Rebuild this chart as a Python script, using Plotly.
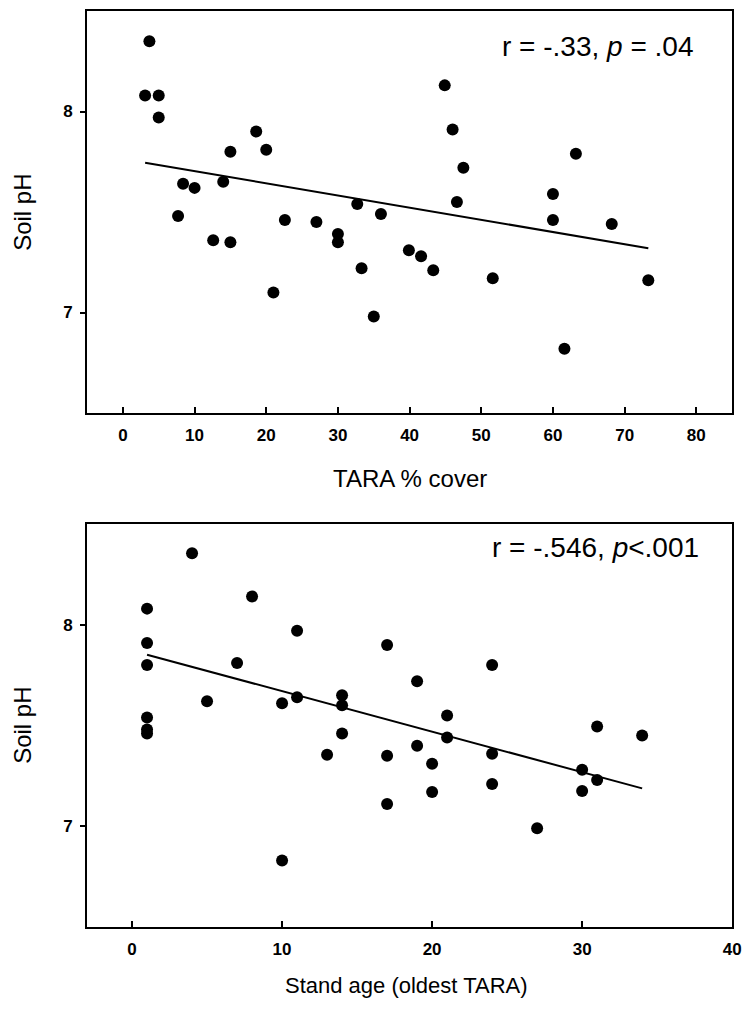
import plotly.graph_objects as go

# ---- Data ----
tara_cover = [3.7, 3.1, 5.0, 5.0, 18.6, 15.0, 20.0, 8.4, 10.0, 14.0, 7.7, 22.6,
              27.0, 32.7, 36.0, 12.6, 15.0, 30.0, 30.0, 21.0, 33.3, 35.0, 39.9, 44.9,
              46.0, 47.5, 46.6, 63.2, 60.0, 60.0, 68.2, 41.6, 43.3, 51.6, 73.3, 61.6]
ph_cover = [8.35, 8.08, 8.08, 7.97, 7.90, 7.80, 7.81, 7.64, 7.62, 7.65, 7.48, 7.46,
            7.45, 7.54, 7.49, 7.36, 7.35, 7.39, 7.35, 7.10, 7.22, 6.98, 7.31, 8.13,
            7.91, 7.72, 7.55, 7.79, 7.59, 7.46, 7.44, 7.28, 7.21, 7.17, 7.16, 6.82]

stand_age = [4, 1, 8, 1, 11, 17, 1, 7, 19, 5, 10, 11, 14, 14, 1, 1, 1, 14,
             24, 21, 31, 34, 21, 13, 17, 19, 17, 10, 20, 20, 24, 24, 30, 31, 30, 27]
ph_age = [8.355, 8.08, 8.14, 7.91, 7.97, 7.90, 7.80, 7.81, 7.72, 7.62, 7.61, 7.64,
          7.65, 7.60, 7.54, 7.48, 7.46, 7.46, 7.80, 7.55, 7.495, 7.45, 7.44, 7.355,
          7.35, 7.40, 7.11, 6.83, 7.31, 7.17, 7.36, 7.21, 7.28, 7.23, 7.175, 6.99]

# regression lines as drawn in the reference (intercept, slope)
fit_cover = (7.764, -0.00606)
fit_age = (7.8715, -0.0201)

stat_top = "r = -.33, <i>p</i> = .04"
stat_bottom = "r = -.546, <i>p</i>&lt;.001"

x_title_top = "TARA % cover"
x_title_bottom = "Stand age (oldest TARA)"
y_title = "Soil pH"

FONT = "Liberation Sans, Arial, Helvetica, sans-serif"
OFF = 8                      # browser body margin
W, H = 755 - OFF, 1014 - OFF


def px(x):
    return (x - OFF) / W


def py(y):
    return 1 - (y - OFF) / H


def fit_line(x, coef):
    b0, b1 = coef
    xs = [min(x), max(x)]
    return xs, [b0 + b1 * v for v in xs]


fig = go.Figure()

fig.add_trace(go.Scatter(x=tara_cover, y=ph_cover, mode="markers",
                         marker=dict(color="black", size=12),
                         xaxis="x", yaxis="y", showlegend=False))
lx, ly = fit_line(tara_cover, fit_cover)
fig.add_trace(go.Scatter(x=lx, y=ly, mode="lines",
                         line=dict(color="black", width=2),
                         xaxis="x", yaxis="y", showlegend=False))

fig.add_trace(go.Scatter(x=stand_age, y=ph_age, mode="markers",
                         marker=dict(color="black", size=12),
                         xaxis="x2", yaxis="y2", showlegend=False))
lx2, ly2 = fit_line(stand_age, fit_age)
fig.add_trace(go.Scatter(x=lx2, y=ly2, mode="lines",
                         line=dict(color="black", width=2),
                         xaxis="x2", yaxis="y2", showlegend=False))

xdom = [px(88), px(741)]
ydom_top = [py(413), py(11)]
ydom_bot = [py(927), py(524)]

tickfont = dict(family=FONT, size=17, color="black", weight="bold")
common_x = dict(showline=True, linecolor="black", linewidth=2, mirror=True,
                ticks="inside", ticklen=6, tickwidth=1.5, tickcolor="black",
                showgrid=False, zeroline=False, dtick=10,
                tickfont=tickfont, ticklabelstandoff=6)
common_y = dict(showline=True, linecolor="black", linewidth=2, mirror=True,
                ticks="outside", ticklen=5, tickwidth=1.5, tickcolor="black",
                showgrid=False, zeroline=False, dtick=1, range=[6.5, 8.5],
                tickfont=tickfont, ticklabelstandoff=4)

fig.update_layout(
    width=W, height=H,
    margin=dict(l=0, r=0, t=0, b=0),
    paper_bgcolor="white", plot_bgcolor="white",
    xaxis=dict(domain=xdom, anchor="y", range=[-5, 85], **common_x),
    yaxis=dict(domain=ydom_top, anchor="x", **common_y),
    xaxis2=dict(domain=xdom, anchor="y2", range=[-3, 40], **common_x),
    yaxis2=dict(domain=ydom_bot, anchor="x2", **common_y),
    font=dict(family=FONT, color="black"),
)

ann_font = dict(family=FONT, size=28, color="black")
title_font = dict(family=FONT, size=24, color="black")
fig.add_annotation(text=stat_top, xref="paper", yref="paper",
                   x=px(703), y=py(46), xanchor="right", yanchor="middle",
                   showarrow=False, font=ann_font)
fig.add_annotation(text=stat_bottom, xref="paper", yref="paper",
                   x=px(709), y=py(547), xanchor="right", yanchor="middle",
                   showarrow=False, font=ann_font)
fig.add_annotation(text=x_title_top, xref="paper", yref="paper",
                   x=px(415), y=py(478), xanchor="center", yanchor="middle",
                   showarrow=False, font=title_font)
fig.add_annotation(text=x_title_bottom, xref="paper", yref="paper",
                   x=px(411), y=py(985), xanchor="center", yanchor="middle",
                   showarrow=False, font=dict(family=FONT, size=22, color="black"))
for yc in [212, 725]:
    fig.add_annotation(text=y_title, xref="paper", yref="paper",
                       x=px(22), y=py(yc), xanchor="center", yanchor="middle",
                       textangle=-90, showarrow=False, font=title_font)

fig.write_html("out.html")
